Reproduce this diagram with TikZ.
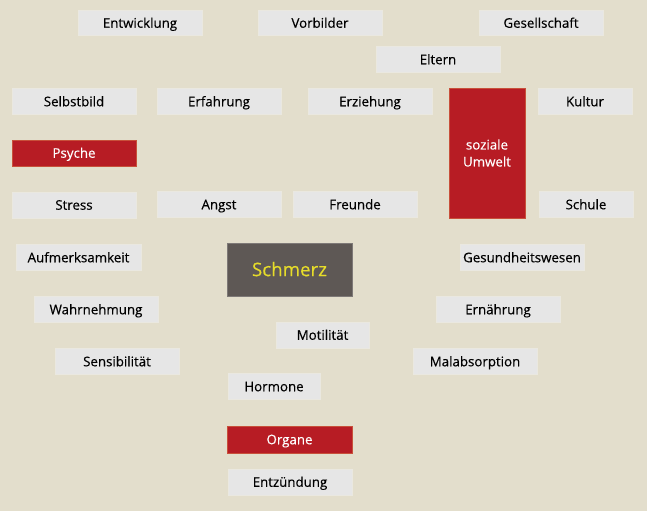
\documentclass[tikz,border=0pt]{standalone}
\usepackage{fontspec}
\setmainfont[FakeBold=0.35]{Open Sans}
\definecolor{bg}{HTML}{E3DECC}
\definecolor{boxg}{HTML}{E6E6E6}
\definecolor{boxline}{HTML}{EAE8E0}
\definecolor{redb}{HTML}{B71C24}
\definecolor{redline}{HTML}{C8503A}
\definecolor{darkb}{HTML}{5E5855}
\definecolor{yel}{HTML}{E6DC2A}
\begin{document}
\begin{tikzpicture}[x=1pt,y=-1pt,
  gbox/.style={rectangle,fill=boxg,draw=boxline,line width=0.6pt,inner sep=0pt,
    minimum width=124pt,minimum height=25.5pt,font=\fontsize{13.3}{16}\selectfont,text=black,
    text height=9.5pt,text depth=0pt},
  rbox/.style={gbox,fill=redb,draw=redline,text=white},
  ]
\fill[bg] (0,0) rectangle (647,511);
\useasboundingbox (0,0) rectangle (647,511);
\node[gbox] (entw) at (140,23) {Entwicklung};
\node[gbox] (vorb) at (320,23) {Vorbilder};
\node[gbox] (gese) at (541,23) {Gesellschaft};
\node[gbox] (elte) at (438,59.5) {Eltern};
\node[gbox] (selb) at (74,101.5) {Selbstbild};
\node[gbox] (erfa) at (219,101.5) {Erfahrung};
\node[gbox] (erzi) at (370,101.5) {Erziehung};
\node[gbox,minimum width=94pt] (kult) at (585,101.5) {Kultur};
\node[rbox,minimum width=76pt,minimum height=130pt,align=center,text height=,text depth=,font=\fontsize{13.3}{17}\selectfont] (sozi) at (487,153) {soziale\\Umwelt};
\node[rbox,minimum height=26pt] (psyc) at (74,153) {Psyche};
\node[gbox,minimum height=26pt] (stre) at (74,205) {Stress};
\node[gbox] (angs) at (219,204.5) {Angst};
\node[gbox] (freu) at (355,204.5) {Freunde};
\node[gbox,minimum width=94pt] (schu) at (586,204.5) {Schule};
\node[gbox,minimum width=125pt] (aufm) at (78.5,257.5) {Aufmerksamkeit};
\node[gbox,fill=darkb,draw=darkb!80!white,text=yel,minimum width=125pt,minimum height=53pt,
  font=\fontsize{18.7}{22}\selectfont,text height=13.3pt] (schm) at (289.5,269.5) {Schmerz};
\node[gbox] (gesu) at (522,257.5) {Gesundheitswesen};
\node[gbox] (wahr) at (96,309.5) {Wahrnehmung};
\node[gbox] (ernae) at (498,309.5) {Ernährung};
\node[gbox,minimum width=93pt,minimum height=26pt] (moti) at (322.5,335) {Motilität};
\node[gbox] (sens) at (117,361.5) {Sensibilität};
\node[gbox] (mala) at (475,361.5) {Malabsorption};
\node[gbox,minimum width=92pt] (horm) at (274,386.5) {Hormone};
\node[rbox,minimum width=125pt,minimum height=27pt] (orga) at (289.5,439.5) {Organe};
\node[gbox,minimum height=26pt] (entz) at (290,482) {Entzündung};
\end{tikzpicture}
\end{document}
